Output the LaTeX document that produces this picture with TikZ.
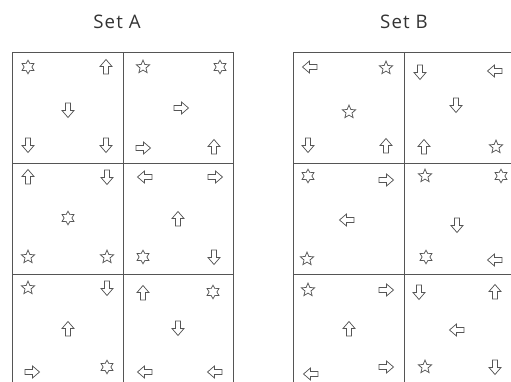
\documentclass[tikz,border=0pt]{standalone}
\usepackage{fontspec}
\setmainfont{Open Sans}
\usepackage{tikz}

\definecolor{gridgray}{HTML}{555555}
\definecolor{symgray}{HTML}{555555}
\definecolor{textgray}{HTML}{333333}

\tikzset{
    grid/.style = {
        draw=gridgray,
        line width=0.75pt,
    },
    title/.style = {
        font=\fontsize{14}{16}\selectfont\addfontfeature{LetterSpace=6},
        text=textgray,
    },
    symline/.style = {
        draw=symgray,
        fill=white,
        line width=0.55pt,
        line join=miter,
    },
    % outlined block arrow, pointing up before rotation
    arr/.pic = {
        \draw[symline] (0,-7.5) -- (6,-0.5) -- (2.5,-0.5) -- (2.5,7)
          -- (-2.5,7) -- (-2.5,-0.5) -- (-6,-0.5) -- cycle;
    },
    fivestar/.pic = {
        \draw[symline] (-90:7)
          \foreach \k in {1,...,9} {
            -- ({-90+36*\k}:{mod(\k,2)==1 ? 3.1 : 7})
          } -- cycle;
    },
    sixstar/.pic = {
        \draw[symline] (-90:6.8)
          \foreach \k in {1,...,11} {
            -- ({-90+30*\k}:{mod(\k,2)==1 ? 3.9 : 6.8})
          } -- cycle;
    },
    up/.pic    = {\pic {arr};},
    down/.pic  = {\pic[rotate=180] {arr};},
    left/.pic  = {\pic[rotate=90] {arr};},
    right/.pic = {\pic[rotate=-90] {arr};},
}

\begin{document}
\begin{tikzpicture}[x=0.75pt, y=-0.75pt]
  \useasboundingbox (0,0) rectangle (511,382);

  % Titles
  \node[title] (ta) at (117,22) {Set A};
  \node[title] (tb) at (404,22) {Set B};

  % Grid of Set A
  \draw[grid] (12,52) -- (233,52);
  \draw[grid] (12,163) -- (233,163);
  \draw[grid] (12,274) -- (233,274);
  \draw[grid] (12,52) -- (12,382);
  \draw[grid] (123,52) -- (123,382);
  \draw[grid] (233,52) -- (233,382);

  % Grid of Set B
  \draw[grid] (293,52) -- (511,52);
  \draw[grid] (293,163) -- (511,163);
  \draw[grid] (293,274) -- (511,274);
  \draw[grid] (293,52) -- (293,382);
  \draw[grid] (404,52) -- (404,382);

  % Set A, first row
  \pic (a11tl) at (28,67)   {sixstar};
  \pic (a11tr) at (106,67)  {up};
  \pic (a11c)  at (68,110)  {down};
  \pic (a11bl) at (28,145)  {down};
  \pic (a11br) at (106,145) {down};
  \pic (a12tl) at (143,67)  {fivestar};
  \pic (a12tr) at (220,67)  {sixstar};
  \pic (a12c)  at (181,108) {right};
  \pic (a12bl) at (143,148) {right};
  \pic (a12br) at (214,147) {up};

  % Set A, second row
  \pic (a21tl) at (28,177)  {up};
  \pic (a21tr) at (107,177) {down};
  \pic (a21c)  at (68,218)  {sixstar};
  \pic (a21bl) at (28,257)  {fivestar};
  \pic (a21br) at (107,257) {fivestar};
  \pic (a22tl) at (145,177) {left};
  \pic (a22tr) at (215,177) {right};
  \pic (a22c)  at (178,219) {up};
  \pic (a22bl) at (143,257) {sixstar};
  \pic (a22br) at (214,257) {down};

  % Set A, third row
  \pic (a31tl) at (28,288)  {fivestar};
  \pic (a31tr) at (107,288) {down};
  \pic (a31c)  at (68,329)  {up};
  \pic (a31bl) at (32,372)  {right};
  \pic (a31br) at (107,367) {sixstar};
  \pic (a32tl) at (143,293) {up};
  \pic (a32tr) at (213,292) {sixstar};
  \pic (a32c)  at (178,328) {down};
  \pic (a32bl) at (145,372) {left};
  \pic (a32br) at (215,372) {left};

  % Set B, first row
  \pic (b11tl) at (310,67)  {left};
  \pic (b11tr) at (386,68)  {fivestar};
  \pic (b11c)  at (349,112) {fivestar};
  \pic (b11bl) at (308,145) {down};
  \pic (b11br) at (386,146) {up};
  \pic (b12tl) at (420,72)  {down};
  \pic (b12tr) at (495,71)  {left};
  \pic (b12c)  at (456,105) {down};
  \pic (b12bl) at (424,147) {up};
  \pic (b12br) at (496,147) {fivestar};

  % Set B, second row
  \pic (b21tl) at (308,176) {sixstar};
  \pic (b21tr) at (386,180) {right};
  \pic (b21c)  at (347,220) {left};
  \pic (b21bl) at (307,259) {fivestar};
  \pic (b22tl) at (425,176) {fivestar};
  \pic (b22tr) at (501,176) {sixstar};
  \pic (b22c)  at (457,225) {down};
  \pic (b22bl) at (426,257) {sixstar};
  \pic (b22br) at (495,260) {left};

  % Set B, third row
  \pic (b31tl) at (308,290) {fivestar};
  \pic (b31tr) at (386,290) {right};
  \pic (b31c)  at (349,329) {up};
  \pic (b31bl) at (311,374) {left};
  \pic (b31br) at (386,367) {right};
  \pic (b32tl) at (419,292) {down};
  \pic (b32tr) at (495,292) {up};
  \pic (b32c)  at (457,330) {left};
  \pic (b32bl) at (425,367) {fivestar};
  \pic (b32br) at (495,367) {down};

\end{tikzpicture}
\end{document}
